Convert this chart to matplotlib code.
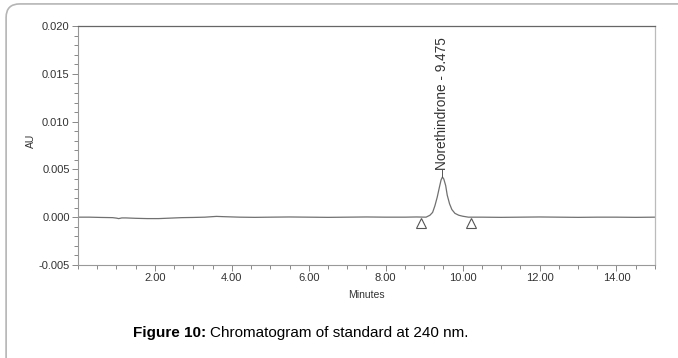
import numpy as np
import matplotlib.pyplot as plt
from matplotlib.patches import FancyBboxPatch
from matplotlib.ticker import MultipleLocator

plt.rcParams["font.family"] = ["Liberation Sans", "DejaVu Sans"]

# chromatogram trace (minutes, AU)
times = [
    0.00, 0.30, 0.60, 0.90, 1.00, 1.06, 1.14, 1.25, 1.50, 1.80, 2.10, 2.40,
    2.70, 3.00, 3.30, 3.60, 3.80, 4.20, 4.60, 5.00, 5.50, 6.00, 6.50, 7.00,
    7.50, 8.00, 8.50, 8.80, 9.05, 9.15, 9.22, 9.28, 9.34, 9.40, 9.44, 9.475,
    9.51, 9.56, 9.60, 9.66, 9.72, 9.80, 9.90, 10.00, 10.15, 10.50, 11.00,
    11.50, 12.00, 12.50, 13.00, 13.50, 14.00, 14.50, 15.00,
]
absorbance = [
    0.0000, 0.0000, -0.00003, -0.00005, -0.0001, -0.00015, -0.00008, -0.00008,
    -0.00012, -0.00015, -0.00015, -0.0001, -0.00005, -0.00003, 0.0000, 0.00008,
    0.00005, 0.0000, -0.00002, 0.0000, 0.00002, 0.0000, -0.00002, 0.0000,
    0.00002, 0.0000, 0.0000, 0.00002, 0.0000, 0.0002, 0.0005, 0.0012, 0.0021,
    0.0032, 0.0039, 0.0042, 0.0040, 0.0033, 0.0023, 0.0014, 0.0008, 0.0004,
    0.0002, 0.0001, 0.0000, 0.0000, -0.00002, 0.0000, 0.00002, 0.0000,
    -0.00002, 0.0000, 0.0000, -0.00002, 0.0000,
]

peak_name = "Norethindrone - 9.475"
peak_time = 9.475
peak_height = 0.0042
integration_marks = [8.93, 10.23]

fig = plt.figure(figsize=(6.78, 3.58), dpi=100)

# rounded frame around the figure
frame = FancyBboxPatch(
    (0.009, -0.1), 1.2, 1.089,
    boxstyle="round,pad=0,rounding_size=0.02",
    mutation_aspect=1.89,
    transform=fig.transFigure,
    facecolor="none", edgecolor="#b5b5b5", linewidth=1.2,
)
fig.patches.append(frame)

ax = fig.add_axes([0.115, 0.260, 0.851, 0.667])
ax.plot(times, absorbance, color="#707070", linewidth=0.9)
ax.plot(integration_marks, [-0.00065] * 2, linestyle="none", marker="^",
        markersize=7, markerfacecolor="white", markeredgecolor="#555555",
        markeredgewidth=0.8)

# peak label
ax.plot([peak_time, peak_time], [peak_height, peak_height + 0.0007],
        color="#555555", linewidth=0.7)
ax.text(peak_time, peak_height + 0.0007, peak_name, rotation=90,
        ha="center", va="bottom", fontsize=9.8, color="#333333")

ax.set_xlim(0, 15)
ax.set_ylim(-0.005, 0.020)
ax.set_xticks([2, 4, 6, 8, 10, 12, 14])
ax.set_xticklabels(["2.00", "4.00", "6.00", "8.00", "10.00", "12.00", "14.00"])
ax.xaxis.set_minor_locator(MultipleLocator(0.5))
ax.set_yticks([-0.005, 0.0, 0.005, 0.010, 0.015, 0.020])
ax.set_yticklabels(["-0.005", "0.000", "0.005", "0.010", "0.015", "0.020"])
ax.yaxis.set_minor_locator(MultipleLocator(0.001))
ax.tick_params(which="major", length=4, width=0.7, color="#888888",
               labelsize=8, labelcolor="#333333", pad=2)
ax.tick_params(which="minor", length=3, width=0.7, color="#888888")

for side in ["left", "bottom"]:
    ax.spines[side].set_color("#999999")
    ax.spines[side].set_linewidth(0.8)
ax.spines["top"].set_color("#666666")
ax.spines["top"].set_linewidth(0.9)
ax.spines["right"].set_color("#bbbbbb")
ax.spines["right"].set_linewidth(0.9)

ax.set_xlabel("Minutes", fontsize=7.5, color="#333333", labelpad=5)
ax.set_ylabel("AU", fontsize=7.5, color="#333333")
ax.yaxis.set_label_coords(-0.072, 0.52)

# caption
cap_bold = fig.text(133 / 678, 1 - 333 / 358, "Figure 10:", fontsize=11,
                    fontweight="bold", va="center", ha="left")
fig.canvas.draw()
bb = cap_bold.get_window_extent()
fig.text(bb.x1 / fig.bbox.width + 0.006, 1 - 333 / 358,
         "Chromatogram of standard at 240 nm.", fontsize=11,
         va="center", ha="left")

fig.savefig("out.png", dpi=100)
plt.close(fig)
